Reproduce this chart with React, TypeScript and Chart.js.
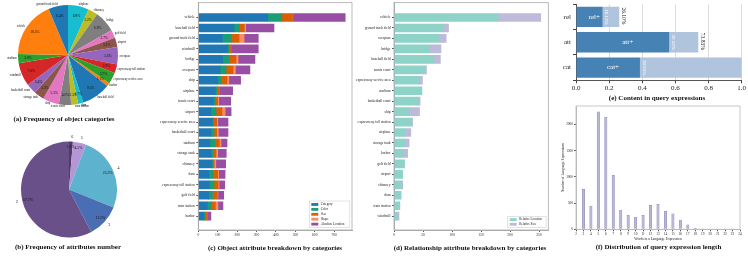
import React, { useEffect, useRef } from 'react';
import { Chart, registerables } from 'chart.js';
Chart.register(...registerables);

const FONT = "'Liberation Serif', 'DejaVu Serif', serif";

// ---------- (a) Frequency of object categories (counter-clockwise from top) ----------
const objCategories = ['ground track field', 'vehicle', 'stadium', 'windmill', 'basketball court', 'storage tank', 'ship', 'tennis court', 'train station', 'dam', 'baseball field', 'harbor', 'expressway service area', 'expressway toll station', 'overpass', 'airport', 'golf field', 'bridge', 'chimney', 'airplane'];
const objShares = [6.4, 18.5, 3.0, 7.6, 3.4, 3.3, 5.3, 4.0, 2.3, 1.7, 9.5, 1.1, 3.7, 2.9, 5.6, 3.1, 2.7, 6.9, 3.2, 6.8];
const tab10 = ['#1f77b4', '#ff7f0e', '#2ca02c', '#d62728', '#9467bd', '#8c564b', '#e377c2', '#7f7f7f', '#bcbd22', '#17becf'];

// ---------- (b) Frequency of attributes number (counter-clockwise from top) ----------
const attrNumbers = ['2', '3', '4', '5', '6'];
const attrNumberShares = [57.7, 11.2, 25.3, 4.5, 1.3];
const attrNumberColors = ['#6a5088', '#4a6eb4', '#5db2ce', '#b496d7', '#503c64'];

// ---------- (c) Object attribute breakdown ----------
const objRows = ['vehicle', 'baseball field', 'ground track field', 'windmill', 'bridge', 'overpass', 'ship', 'airplane', 'tennis court', 'airport', 'expressway service area', 'basketball court', 'stadium', 'storage tank', 'chimney', 'dam', 'expressway toll station', 'golf field', 'train station', 'harbor'];
const attrCategory = [358, 184, 124, 151, 126, 112, 100, 88, 77, 65, 72, 65, 60, 65, 71, 54, 57, 54, 46, 29];
const attrColor = [72, 26, 45, 7, 32, 31, 17, 8, 13, 26, 7, 16, 26, 11, 2, 22, 24, 19, 21, 5];
const attrSize = [55, 27, 41, 14, 36, 36, 31, 11, 10, 31, 16, 14, 22, 15, 9, 24, 21, 25, 21, 11];
const attrShape = [2, 7, 26, 0, 11, 12, 9, 0, 5, 16, 5, 8, 9, 9, 8, 5, 5, 3, 13, 0];
const attrLocation = [270, 146, 73, 137, 87, 75, 61, 70, 62, 31, 53, 50, 31, 44, 51, 33, 29, 30, 26, 20];
const objSeriesNames = ['Category', 'Color', 'Size', 'Shape', 'Absolute Location'];
const objSeriesColors = ['#1f77b4', '#1b9e77', '#d95f02', '#fc8d62', '#984ea3'];
const objTicks = [0, 100, 200, 300, 400, 500, 600, 700];

// ---------- (d) Relationship attribute breakdown ----------
const relRows = ['vehicle', 'ground track field', 'overpass', 'bridge', 'baseball field', 'tennis court', 'expressway service area', 'stadium', 'basketball court', 'ship', 'expressway toll station', 'airplane', 'storage tank', 'harbor', 'golf field', 'airport', 'chimney', 'dam', 'train station', 'windmill'];
const relLocation = [180, 85, 78, 61, 69, 54, 43, 48, 42, 27, 31, 19, 20, 16, 18, 15, 13, 12, 10, 4.6];
const relSize = [73, 9, 12, 20, 11, 2, 6, 0, 3, 17, 1, 10, 6, 7.5, 0, 0, 2, 0, 0, 4];
const relSeriesNames = ['Relative Location', 'Relative Size'];
const relSeriesColors = ['#8dd3c7', '#bebada'];
const relTicks = [0, 50, 100, 150, 200, 250];

// ---------- (e) Content in query expressions ----------
const contentRows = ['rel', 'att', 'cat'];
const contentPlus = [0.161, 0.563, 0.386];
const contentRest = [0.100, 0.175, 0.614];
const contentInner = ['rel+', 'att+', 'cat+'];
const contentPlusText = ['16.12%', '56.32%', '38.63%'];
const contentTotalText = ['26.10%', '73.83%', ''];

// ---------- (f) Distribution of query expression length ----------
const lengthWords = [2, 3, 4, 5, 6, 7, 8, 9, 10, 11, 12, 13, 14, 15, 16, 17, 18, 19, 20, 21, 22, 23, 24];
const lengthCounts = [0, 763, 445, 2244, 2137, 1030, 369, 267, 229, 267, 458, 477, 350, 293, 178, 83, 25, 8, 3, 2, 1, 1, 0];
const lengthTicksY = [0, 500, 1000, 1500, 2000];

function rev<T>(a: T[]): T[] { return a.slice().reverse(); }

function makePieText(labels: string[], pcts: string[], o: any) {
  return {
    id: 'pieText',
    afterDatasetsDraw(chart: any) {
      const meta = chart.getDatasetMeta(0);
      const ctx = chart.ctx;
      ctx.save();
      meta.data.forEach((arc: any, i: number) => {
        const p = arc.getProps(['x', 'y', 'startAngle', 'endAngle', 'outerRadius'], true);
        const mid = (p.startAngle + p.endAngle) / 2;
        const c = Math.cos(mid), s = Math.sin(mid);
        ctx.fillStyle = '#111';
        ctx.textBaseline = 'middle';
        ctx.font = o.pctFont;
        ctx.textAlign = 'center';
        ctx.fillText(pcts[i], p.x + c * p.outerRadius * o.pctDist, p.y + s * p.outerRadius * o.pctDist);
        ctx.font = o.labelFont;
        ctx.textAlign = c >= 0 ? 'left' : 'right';
        ctx.fillText(labels[i], p.x + c * p.outerRadius * o.labelDist, p.y + s * p.outerRadius * o.labelDist);
      });
      ctx.restore();
    },
  };
}

function makeFrame(color: string) {
  return {
    id: 'frame',
    afterDraw(chart: any) {
      const { ctx, chartArea: a } = chart;
      ctx.save();
      ctx.strokeStyle = color;
      ctx.lineWidth = 0.8;
      ctx.strokeRect(a.left, a.top, a.right - a.left, a.bottom - a.top);
      ctx.restore();
    },
  };
}

function makeLegend(names: string[], colors: string[], w: number, h: number) {
  return {
    id: 'boxLegend',
    afterDraw(chart: any) {
      const { ctx, chartArea: a } = chart;
      const right = a.right - 2.2, bottom = a.bottom - 2.4;
      const left = right - w, top = bottom - h;
      ctx.save();
      ctx.fillStyle = 'rgba(255,255,255,0.9)';
      ctx.strokeStyle = '#d0d0d0';
      ctx.lineWidth = 0.6;
      ctx.fillRect(left, top, w, h);
      ctx.strokeRect(left, top, w, h);
      const rowH = (h - 2) / names.length;
      names.forEach((n, i) => {
        const yc = top + 1 + rowH * (i + 0.5);
        ctx.fillStyle = colors[i];
        ctx.fillRect(left + 2, yc - 1.4, 7, 2.8);
        ctx.fillStyle = '#222';
        ctx.font = `3.2px ${FONT}`;
        ctx.textAlign = 'left';
        ctx.textBaseline = 'middle';
        ctx.fillText(n, left + 11.5, yc);
      });
      ctx.restore();
    },
  };
}

const contentText = {
  id: 'contentText',
  afterDatasetsDraw(chart: any) {
    const { ctx } = chart;
    const xs = chart.scales.x, ys = chart.scales.y;
    ctx.save();
    const rot = (t: string, x: number, y: number, color: string, size: number) => {
      ctx.save();
      ctx.translate(x, y);
      ctx.rotate(Math.PI / 2);
      ctx.fillStyle = color;
      ctx.font = `${size}px ${FONT}`;
      ctx.textAlign = 'center';
      ctx.textBaseline = 'middle';
      ctx.fillText(t, 0, 0);
      ctx.restore();
    };
    contentRows.forEach((_, i) => {
      const yc = ys.getPixelForValue(i);
      ctx.fillStyle = '#fff';
      ctx.font = `7px ${FONT}`;
      ctx.textAlign = 'center';
      ctx.textBaseline = 'middle';
      ctx.fillText(contentInner[i], xs.getPixelForValue(contentPlus[i] / 2) + 5, yc);
      rot(contentPlusText[i], xs.getPixelForValue(contentPlus[i]) + 4, yc, '#fff', 5);
      if (contentTotalText[i]) rot(contentTotalText[i], xs.getPixelForValue(contentPlus[i] + contentRest[i]) + 4.5, yc - 1, '#222', 5.5);
    });
    ctx.restore();
  },
};

const lengthTitles = {
  id: 'lengthTitles',
  afterDraw(chart: any) {
    const { ctx, chartArea: a } = chart;
    ctx.save();
    ctx.fillStyle = '#222';
    ctx.font = `3.6px ${FONT}`;
    ctx.textAlign = 'center';
    ctx.textBaseline = 'middle';
    ctx.fillText('Words in a Language Expression', (a.left + a.right) / 2, a.bottom + 10);
    ctx.translate(a.left - 13, (a.top + a.bottom) / 2);
    ctx.rotate(-Math.PI / 2);
    ctx.fillText('Number of Language Expressions', 0, 0);
    ctx.restore();
  },
};

function hbarConfig(rows: string[], names: string[], colors: string[], series: number[][], max: number, ticks: number[], yWidth: number, padRight: number, legendPlugin: any) {
  return {
    type: 'bar',
    data: {
      datasets: series.map((vals, k) => ({
        label: names[k],
        data: vals.map((v, i) => ({ x: v, y: i })),
        backgroundColor: colors[k],
        borderWidth: 0,
        barThickness: 8,
      })),
    },
    options: {
      indexAxis: 'y',
      responsive: false,
      animation: false,
      devicePixelRatio: 1,
      layout: { padding: { left: 0, right: padRight, top: 1, bottom: 0 } },
      plugins: { legend: { display: false }, tooltip: { enabled: false } },
      scales: {
        y: {
          type: 'linear', reverse: true, stacked: true, offset: false, min: -1.42, max: rows.length - 1 + 1.32,
          afterBuildTicks: (s: any) => { s.ticks = rows.map((_, i) => ({ value: i })); },
          afterFit: (s: any) => { s.width = yWidth; },
          ticks: { autoSkip: false, callback: (v: any) => rows[v], font: { family: FONT, size: 3.6 }, color: '#222', padding: 1.5 },
          grid: { drawOnChartArea: false, offset: false, tickLength: 2, color: '#555' },
          border: { color: '#aaa' },
        },
        x: {
          type: 'linear', stacked: true, offset: false, min: 0, max,
          afterBuildTicks: (s: any) => { s.ticks = ticks.map((v) => ({ value: v })); },
          afterFit: (s: any) => { s.height = 11; },
          ticks: { autoSkip: false, maxRotation: 0, font: { family: FONT, size: 3.6 }, color: '#222', padding: 1 },
          grid: { drawOnChartArea: false, tickLength: 2, color: '#555' },
          border: { color: '#aaa' },
        },
      },
    },
    plugins: [makeFrame('#aaa'), legendPlugin],
  };
}

export default function App() {
  const refA = useRef<HTMLCanvasElement>(null);
  const refB = useRef<HTMLCanvasElement>(null);
  const refC = useRef<HTMLCanvasElement>(null);
  const refD = useRef<HTMLCanvasElement>(null);
  const refE = useRef<HTMLCanvasElement>(null);
  const refF = useRef<HTMLCanvasElement>(null);

  useEffect(() => {
    const charts: Chart[] = [];
    const objColors = objShares.map((_, i) => tab10[i % 10]);
    charts.push(new Chart(refA.current as any, {
      type: 'pie',
      data: { labels: rev(objCategories), datasets: [{ data: rev(objShares), backgroundColor: rev(objColors), borderWidth: 0, hoverOffset: 0 } as any] },
      options: {
        responsive: false, animation: false, devicePixelRatio: 1,
        layout: { padding: { left: 18, top: 4.5, right: 52, bottom: 10.5 } },
        plugins: { legend: { display: false }, tooltip: { enabled: false } },
      } as any,
      plugins: [makePieText(rev(objCategories), rev(objShares).map((v) => v.toFixed(1) + '%'), { pctFont: `3.6px ${FONT}`, labelFont: `3px ${FONT}`, pctDist: 0.8, labelDist: 1.03 })],
    } as any));

    charts.push(new Chart(refB.current as any, {
      type: 'pie',
      data: { labels: rev(attrNumbers), datasets: [{ data: rev(attrNumberShares), backgroundColor: rev(attrNumberColors), borderWidth: 0, hoverOffset: 0 } as any] },
      options: {
        responsive: false, animation: false, devicePixelRatio: 1,
        layout: { padding: { left: 21, top: 11.5, right: 13, bottom: 10.5 } },
        plugins: { legend: { display: false }, tooltip: { enabled: false } },
      } as any,
      plugins: [makePieText(rev(attrNumbers), rev(attrNumberShares).map((v) => v.toFixed(1) + '%'), { pctFont: `3.8px ${FONT}`, labelFont: `4px ${FONT}`, pctDist: 0.88, labelDist: 1.1 })],
    } as any));

    charts.push(new Chart(refC.current as any, hbarConfig(objRows, objSeriesNames, objSeriesColors,
      [attrCategory, attrColor, attrSize, attrShape, attrLocation], 792, objTicks, 68.3, 6,
      makeLegend(objSeriesNames, objSeriesColors, 40.5, 26.6)) as any));

    charts.push(new Chart(refD.current as any, hbarConfig(relRows, relSeriesNames, relSeriesColors,
      [relLocation, relSize], 266, relTicks, 44, 1.7,
      makeLegend(relSeriesNames, relSeriesColors, 38.4, 11.3)) as any));

    charts.push(new Chart(refE.current as any, {
      type: 'bar',
      data: {
        labels: contentRows,
        datasets: [
          { label: 'plus', data: contentPlus, backgroundColor: '#4682b4', borderWidth: 0, barPercentage: 0.8, categoryPercentage: 1 },
          { label: 'rest', data: contentRest, backgroundColor: '#b0c4de', borderWidth: 0, barPercentage: 0.8, categoryPercentage: 1 },
        ],
      },
      options: {
        indexAxis: 'y', responsive: false, animation: false, devicePixelRatio: 1,
        layout: { padding: { left: 0, right: 6.3, top: 0.5, bottom: 0 } },
        plugins: { legend: { display: false }, tooltip: { enabled: false } },
        scales: {
          y: {
            stacked: true,
            afterFit: (s: any) => { s.width = 21; },
            ticks: { font: { family: FONT, size: 7 }, color: '#222', padding: 2 },
            grid: { drawOnChartArea: false, tickLength: 3, color: '#444' },
            border: { color: '#555' },
          },
          x: {
            stacked: true, type: 'linear', min: 0, max: 1,
            afterFit: (s: any) => { s.height = 13.7; },
            ticks: { stepSize: 0.2, includeBounds: false, callback: (v: any) => Number(v).toFixed(1), font: { family: FONT, size: 7 }, color: '#222', padding: 1, maxRotation: 0 },
            grid: { color: '#dcdcdc', tickLength: 3, tickColor: '#444' },
            border: { color: '#555' },
          },
        },
      } as any,
      plugins: [contentText],
    } as any));

    charts.push(new Chart(refF.current as any, {
      type: 'bar',
      data: {
        datasets: [{
          data: lengthWords.map((w, i) => ({ x: w, y: lengthCounts[i] })),
          backgroundColor: '#b9b7d6', borderColor: '#8e8cb4', borderWidth: 0.5, barThickness: 2.4,
        }],
      },
      options: {
        responsive: false, animation: false, devicePixelRatio: 1,
        layout: { padding: { left: 0, right: 193 - 185, top: 6, bottom: 0 } },
        plugins: { legend: { display: false }, tooltip: { enabled: false } },
        scales: {
          x: {
            type: 'linear', min: 2, max: 24, offset: false,
            afterBuildTicks: (s: any) => { s.ticks = lengthWords.map((v) => ({ value: v })); },
            afterFit: (s: any) => { s.height = 26.7; },
            ticks: { autoSkip: false, maxRotation: 0, callback: (v: any) => String(v), font: { family: FONT, size: 3.4 }, color: '#222', padding: 1 },
            grid: { drawOnChartArea: false, offset: false, tickLength: 2, color: '#555' },
            border: { color: '#bbb' },
          },
          y: {
            min: 0, max: 2353,
            afterBuildTicks: (s: any) => { s.ticks = lengthTicksY.map((v) => ({ value: v })); },
            afterFit: (s: any) => { s.width = 21; },
            ticks: { callback: (v: any) => String(v), font: { family: FONT, size: 3.4 }, color: '#222', padding: 1 },
            grid: { drawOnChartArea: false, tickLength: 2, color: '#555' },
            border: { color: '#bbb' },
          },
        },
      } as any,
      plugins: [makeFrame('#bbb'), lengthTitles],
    } as any));

    return () => charts.forEach((c) => c.destroy());
  }, []);

  const cv = (ref: any, left: number, top: number, w: number, h: number) => (
    <canvas ref={ref} width={w} height={h} style={{ position: 'absolute', left, top, width: w, height: h }} />
  );
  const captions = [
    { t: '(a) Frequency of object categories', x: 64, y: 118.5 },
    { t: '(b) Frequency of attributes number', x: 68, y: 246.5 },
    { t: '(c) Object attribute breakdown by categories', x: 275, y: 248 },
    { t: '(d) Relationship attribute breakdown by categories', x: 470, y: 248 },
    { t: '(e) Content in query expressions', x: 657, y: 98.3 },
    { t: '(f) Distribution of query expression length', x: 658.5, y: 247 },
  ];

  return (
    <div style={{ position: 'absolute', left: 0, top: 0, width: 748, height: 256, background: '#fff', overflow: 'hidden' }}>
      {cv(refC, 130, -1, 228, 242)}
      {cv(refD, 350, -1, 200, 242)}
      {cv(refA, 0, 0, 170, 116)}
      {cv(refB, 0, 130, 130, 118)}
      {cv(refE, 555, -2, 193, 96)}
      {cv(refF, 555, 100, 193, 156)}
      {captions.map((c, i) => (
        <div key={i} style={{ position: 'absolute', left: c.x - 120, top: c.y - 5, width: 240, textAlign: 'center', font: `bold 7px ${FONT}`, lineHeight: '10px', whiteSpace: 'nowrap', color: '#111' }}>{c.t}</div>
      ))}
    </div>
  );
}
